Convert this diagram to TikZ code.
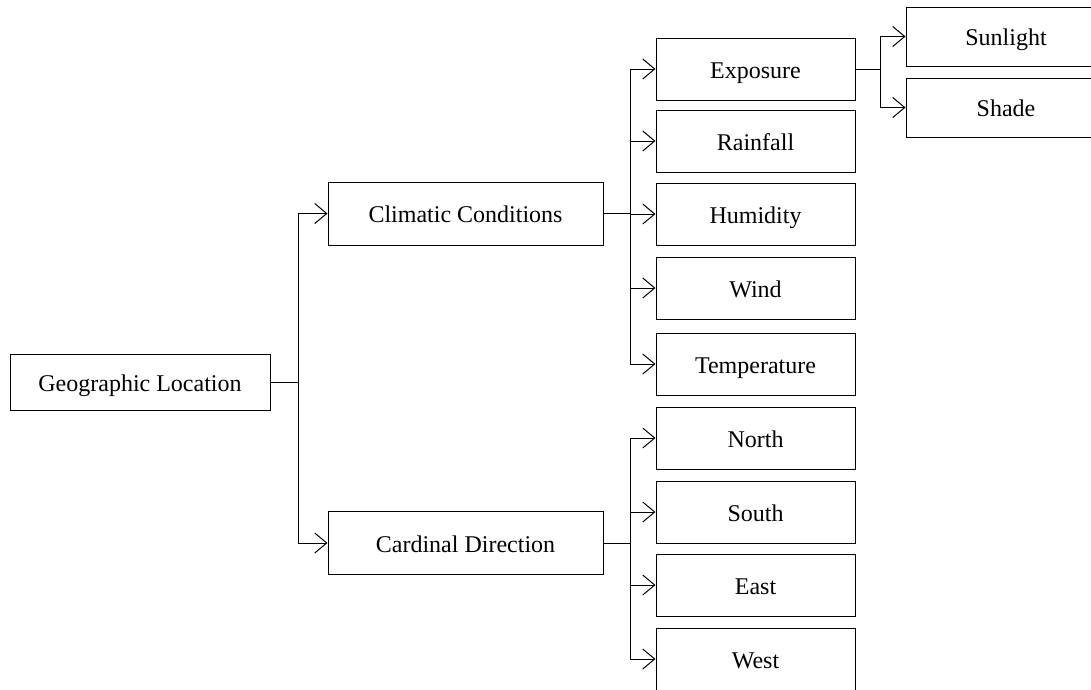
\documentclass[tikz,border=0pt]{standalone}
\usepackage{fontspec}
\setmainfont{Liberation Serif}
\usetikzlibrary{arrows.meta}
\begin{document}
\begin{tikzpicture}[x=1pt,y=-1pt,
  box/.style={draw, line width=1pt, inner sep=0pt, anchor=center,
    font=\fontsize{24}{28}\selectfont, text height=18pt, text depth=0pt},
  midbox/.style={box, minimum width=275pt, minimum height=63pt},
  leaf/.style={box, minimum width=199pt, minimum height=62pt},
  subleaf/.style={box, minimum width=200pt, minimum height=59pt},
  link/.style={line width=1pt},
  arrow/.style={link, -{Straight Barb[length=12pt,width=20pt,line width=1pt]}}]
\useasboundingbox (0,0) rectangle (1091,689);
\clip (0,0) rectangle (1091,689);

% root
\node[box, minimum width=260pt, minimum height=56pt] (gl) at (140,382) {Geographic Location};

% second level
\node[midbox] (cc) at (465.5,213.5) {Climatic Conditions};
\node[midbox] (cd) at (465.5,543) {Cardinal Direction};

% climatic factors
\node[leaf] (exp)  at (755.5,69)  {Exposure};
\node[leaf] (rain) at (755.5,141) {Rainfall};
\node[leaf] (hum)  at (755.5,214) {Humidity};
\node[leaf] (wind) at (755.5,288) {Wind};
\node[leaf] (temp) at (755.5,364) {Temperature};

% directions
\node[leaf] (north) at (755.5,438) {North};
\node[leaf] (south) at (755.5,512) {South};
\node[leaf] (east)  at (755.5,585) {East};
\node[leaf] (west)  at (755.5,659) {West};

% exposure kinds
\node[subleaf] (sun)   at (1006,36.5)  {Sunlight};
\node[subleaf] (shade) at (1006,107.5) {Shade};

% junction points
\coordinate (j1) at (298,382);
\coordinate (j2) at (630,213.5);
\coordinate (j3) at (630,543);
\coordinate (j4) at (880,69);

\draw[link] (gl.east) -- (j1);
\foreach \n in {cc,cd} \draw[arrow] (j1) |- (\n.west);

\draw[link] (cc.east) -- (j2);
\foreach \n in {exp,rain,hum,wind,temp} \draw[arrow] (j2) |- (\n.west);

\draw[link] (cd.east) -- (j3);
\foreach \n in {north,south,east,west} \draw[arrow] (j3) |- (\n.west);

\draw[link] (exp.east) -- (j4);
\foreach \n in {sun,shade} \draw[arrow] (j4) |- (\n.west);
\end{tikzpicture}
\end{document}
